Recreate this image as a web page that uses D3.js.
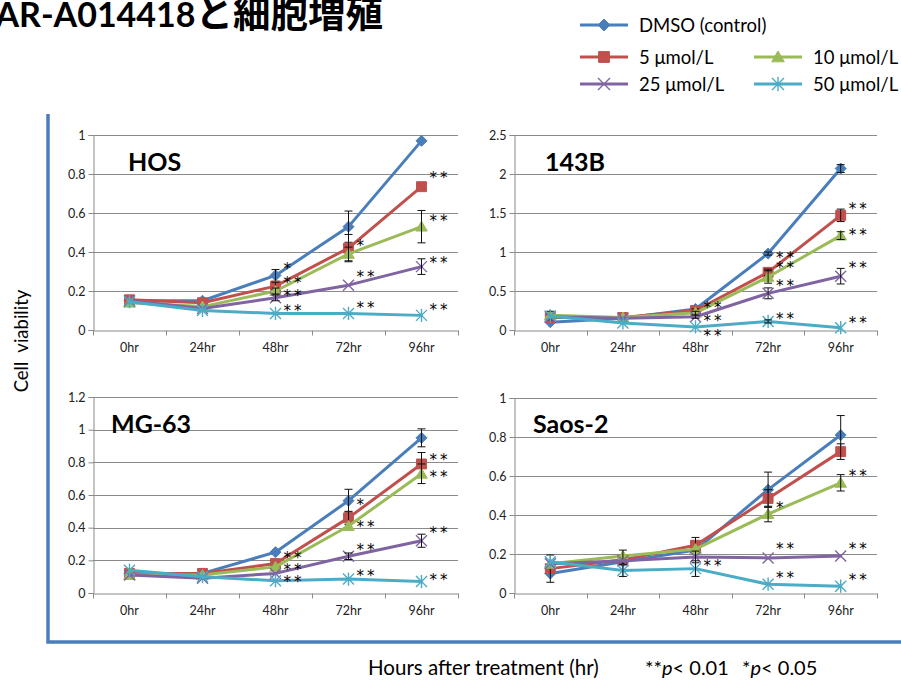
<!DOCTYPE html>
<html>
<head>
<meta charset="utf-8">
<script src="https://cdn.jsdelivr.net/npm/d3@7"></script>
<style>
  html, body { margin: 0; padding: 0; background: #fff; }
  svg { display: block; }
</style>
</head>
<body>
<svg id="chart" width="901" height="682"></svg>
<script>
// ---- data ----
const hours = ["0hr", "24hr", "48hr", "72hr", "96hr"];
const seriesNames = ["DMSO (control)", "5 μmol/L", "10 μmol/L", "25 μmol/L", "50 μmol/L"];

// HOS
const hosValues = [
  [0.15, 0.15, 0.28, 0.53, 0.97],
  [0.155, 0.14, 0.225, 0.42, 0.735],
  [0.14, 0.12, 0.20, 0.39, 0.53],
  [0.15, 0.11, 0.165, 0.23, 0.325],
  [0.145, 0.10, 0.085, 0.085, 0.075]
];
const hosErrors = [
  [0.01, 0.01, 0.03, 0.08, 0.01],
  [0.01, 0.01, 0.02, 0.07, 0.01],
  [0.01, 0.01, 0.015, 0.035, 0.083],
  [0.01, 0.01, 0.015, 0.01, 0.04],
  [0.01, 0.01, 0.01, 0.01, 0.01]
];
const hosStars = [
  [2, 0.333, "*"], [2, 0.26, "**"], [2, 0.197, "**"], [2, 0.12, "**"],
  [3, 0.453, "*"], [3, 0.29, "**"], [3, 0.133, "**"],
  [4, 0.798, "**"], [4, 0.58, "**"], [4, 0.362, "**"], [4, 0.125, "**"]
];

// 143B
const b143Values = [
  [0.10, 0.15, 0.27, 0.98, 2.07],
  [0.16, 0.16, 0.25, 0.74, 1.47],
  [0.19, 0.16, 0.22, 0.68, 1.21],
  [0.17, 0.15, 0.17, 0.47, 0.69],
  [0.18, 0.09, 0.04, 0.11, 0.03]
];
const b143Errors = [
  [0.01, 0.01, 0.02, 0.02, 0.05],
  [0.03, 0.01, 0.02, 0.04, 0.08],
  [0.05, 0.01, 0.02, 0.08, 0.05],
  [0.01, 0.01, 0.02, 0.07, 0.10],
  [0.01, 0.01, 0.01, 0.02, 0.01]
];
const b143Stars = [
  [2, 0.33, "**"], [2, 0.17, "**"], [2, -0.02, "**"],
  [3, 0.98, "**"], [3, 0.84, "**"], [3, 0.62, "**"], [3, 0.19, "**"],
  [4, 1.60, "**"], [4, 1.27, "**"], [4, 0.85, "**"], [4, 0.137, "**"]
];

// MG-63
const mg63Values = [
  [0.12, 0.12, 0.25, 0.565, 0.95],
  [0.12, 0.12, 0.18, 0.46, 0.79],
  [0.11, 0.11, 0.16, 0.41, 0.73],
  [0.11, 0.09, 0.12, 0.225, 0.32],
  [0.14, 0.10, 0.075, 0.085, 0.07]
];
const mg63Errors = [
  [0.01, 0.01, 0.01, 0.07, 0.055],
  [0.01, 0.01, 0.01, 0.04, 0.07],
  [0.01, 0.01, 0.01, 0.01, 0.06],
  [0.01, 0.01, 0.01, 0.02, 0.04],
  [0.01, 0.01, 0.01, 0.01, 0.01]
];
const mg63Stars = [
  [2, 0.238, "**"], [2, 0.166, "**"], [2, 0.094, "**"],
  [3, 0.566, "*"], [3, 0.426, "**"], [3, 0.289, "**"], [3, 0.129, "**"],
  [4, 0.836, "**"], [4, 0.734, "**"], [4, 0.391, "**"], [4, 0.102, "**"]
];

// Saos-2
const saosValues = [
  [0.10, 0.16, 0.22, 0.53, 0.81],
  [0.125, 0.17, 0.245, 0.485, 0.725],
  [0.15, 0.19, 0.225, 0.405, 0.565],
  [0.15, 0.165, 0.185, 0.18, 0.19],
  [0.16, 0.115, 0.125, 0.045, 0.035]
];
const saosErrors = [
  [0.01, 0.01, 0.01, 0.09, 0.10],
  [0.07, 0.02, 0.04, 0.045, 0.04],
  [0.01, 0.03, 0.01, 0.04, 0.042],
  [0.01, 0.01, 0.03, 0.01, 0.01],
  [0.01, 0.03, 0.04, 0.01, 0.01]
];
const saosStars = [
  [2, 0.157, "**"],
  [3, 0.458, "*"], [3, 0.244, "**"], [3, 0.099, "**"],
  [4, 0.62, "**"], [4, 0.244, "**"], [4, 0.085, "**"]
];

const hosTicks = [0, 0.2, 0.4, 0.6, 0.8, 1];
const b143Ticks = [0, 0.5, 1, 1.5, 2, 2.5];
const mg63Ticks = [0, 0.2, 0.4, 0.6, 0.8, 1, 1.2];
const saosTicks = [0, 0.2, 0.4, 0.6, 0.8, 1];

// ---- styling ----
const colors = ["#4a7ebb", "#c0504d", "#9bbb59", "#8064a2", "#4bacc6"];
const markerKinds = ["diamond", "square", "triangle", "x", "star"];
const gridColor = "#8a8a8a";
const latin = "Lato, 'Noto Sans', sans-serif";

const svg = d3.select("#chart");

// marker path generator
function markerPath(kind, r) {
  const p = d3.path();
  if (kind === "diamond") {
    p.moveTo(0, -r); p.lineTo(r, 0); p.lineTo(0, r); p.lineTo(-r, 0); p.closePath();
  } else if (kind === "square") {
    p.rect(-r * 0.9, -r * 0.9, r * 1.8, r * 1.8);
  } else if (kind === "triangle") {
    p.moveTo(0, -r); p.lineTo(r * 1.05, r * 0.8); p.lineTo(-r * 1.05, r * 0.8); p.closePath();
  } else if (kind === "x") {
    p.moveTo(-r, -r); p.lineTo(r, r); p.moveTo(r, -r); p.lineTo(-r, r);
  } else {
    p.moveTo(-r, -r); p.lineTo(r, r); p.moveTo(r, -r); p.lineTo(-r, r);
    p.moveTo(0, -r * 1.2); p.lineTo(0, r * 1.2);
  }
  return p.toString();
}
function drawMarker(g, kind, color, r) {
  const open = kind === "x" || kind === "star";
  g.append("path")
    .attr("d", markerPath(kind, r))
    .attr("fill", open ? "none" : color)
    .attr("stroke", color)
    .attr("stroke-width", open ? 1.4 : 1);
}

// ---- title ----
const title = svg.append("text")
  .attr("x", 383).attr("y", 27)
  .attr("text-anchor", "end")
  .attr("font-weight", "bold")
  .attr("fill", "#000");
title.append("tspan").attr("font-family", latin).attr("font-size", 34).text("AR-A014418");
title.append("tspan").attr("font-family", "'Noto Sans CJK JP', sans-serif").attr("font-size", 37.5).text("と細胞増殖");

// ---- legend ----
const legendItems = [
  { i: 0, x: 580, y: 25 },
  { i: 1, x: 580, y: 57 },
  { i: 2, x: 754, y: 57 },
  { i: 3, x: 580, y: 84 },
  { i: 4, x: 754, y: 84 }
];
legendItems.forEach(it => {
  const g = svg.append("g").attr("transform", `translate(${it.x},${it.y})`);
  g.append("line").attr("x1", 0).attr("x2", 48).attr("y1", 0).attr("y2", 0)
    .attr("stroke", colors[it.i]).attr("stroke-width", 3);
  const m = g.append("g").attr("transform", "translate(24,0)");
  drawMarker(m, markerKinds[it.i], colors[it.i], 6);
  g.append("text").attr("x", 59).attr("y", 6.5)
    .attr("font-family", latin).attr("font-size", 18.5).attr("fill", "#000")
    .text(seriesNames[it.i]);
});

// ---- frame ----
svg.append("path")
  .attr("d", d3.line()([[48, 114], [48, 642], [901, 642]]))
  .attr("fill", "none").attr("stroke", "#4a7ebb").attr("stroke-width", 3.5);

// ---- panels ----
const panels = [
  { name: "HOS", values: hosValues, errors: hosErrors, stars: hosStars, ticks: hosTicks,
    left: 93, right: 458, top: 135, bottom: 330, labelX: 128, labelY: 171 },
  { name: "143B", values: b143Values, errors: b143Errors, stars: b143Stars, ticks: b143Ticks,
    left: 514, right: 877, top: 135, bottom: 330, labelX: 545, labelY: 171 },
  { name: "MG-63", values: mg63Values, errors: mg63Errors, stars: mg63Stars, ticks: mg63Ticks,
    left: 93, right: 458, top: 397, bottom: 593, labelX: 111, labelY: 433 },
  { name: "Saos-2", values: saosValues, errors: saosErrors, stars: saosStars, ticks: saosTicks,
    left: 514, right: 877, top: 398, bottom: 593, labelX: 533, labelY: 433 }
];

panels.forEach(p => {
  const g = svg.append("g");
  const x = d3.scaleBand().domain(hours).range([p.left, p.right]);
  const y = d3.scaleLinear().domain([0, d3.max(p.ticks)]).range([p.bottom, p.top]);
  const cx = h => x(h) + x.bandwidth() / 2;

  // gridlines
  g.append("g").selectAll("line").data(p.ticks.slice(1)).join("line")
    .attr("x1", p.left).attr("x2", p.right)
    .attr("y1", d => Math.round(y(d)) + 0.5).attr("y2", d => Math.round(y(d)) + 0.5)
    .attr("stroke", gridColor).attr("stroke-width", 1);

  // y axis
  const ya = g.append("g").attr("transform", `translate(${p.left + 0.5},0)`)
    .call(d3.axisLeft(y).tickValues(p.ticks).tickSize(5).tickPadding(3).tickFormat(d3.format("~g")));
  ya.select(".domain").attr("stroke", gridColor);
  ya.selectAll(".tick line").attr("stroke", gridColor);
  ya.selectAll(".tick text").attr("font-family", latin).attr("font-size", 12.5).attr("fill", "#222");

  // x axis: labels at band centres, tick marks at band boundaries
  const xa = g.append("g").attr("transform", `translate(0,${Math.round(p.bottom) + 0.5})`)
    .call(d3.axisBottom(x).tickSize(0).tickPadding(13));
  xa.select(".domain").attr("stroke", gridColor);
  xa.selectAll(".tick text").attr("font-family", latin).attr("font-size", 12.5).attr("fill", "#222");
  const bounds = hours.map(h => x(h)).concat([p.right]);
  xa.selectAll(".bound").data(bounds).join("line").attr("class", "bound")
    .attr("x1", d => Math.round(d) + 0.5).attr("x2", d => Math.round(d) + 0.5)
    .attr("y1", 0).attr("y2", 5).attr("stroke", gridColor);

  // panel name
  g.append("text").attr("x", p.labelX).attr("y", p.labelY)
    .attr("font-family", latin).attr("font-weight", "bold").attr("font-size", 25)
    .attr("fill", "#000").text(p.name);

  // series
  const line = d3.line().x((d, i) => cx(hours[i])).y(d => y(d));
  p.values.forEach((vals, s) => {
    const sg = g.append("g");
    sg.append("path").attr("d", line(vals))
      .attr("fill", "none").attr("stroke", colors[s]).attr("stroke-width", 3)
      .attr("stroke-linejoin", "round").attr("stroke-linecap", "round");
    vals.forEach((v, i) => {
      const m = sg.append("g").attr("transform", `translate(${cx(hours[i])},${y(v)})`);
      drawMarker(m, markerKinds[s], colors[s], 5.5);
    });
    // error bars
    vals.forEach((v, i) => {
      const e = p.errors[s][i];
      if (e < 0.012) return;
      const xc = cx(hours[i]);
      const y1 = y(v + e), y2 = y(v - e);
      sg.append("path")
        .attr("d", `M${xc},${y1}V${y2}M${xc - 4},${y1}H${xc + 4}M${xc - 4},${y2}H${xc + 4}`)
        .attr("stroke", "#111").attr("stroke-width", 1).attr("fill", "none");
    });
  });

  // significance asterisks
  g.append("g").selectAll("text").data(p.stars).join("text")
    .attr("x", d => cx(hours[d[0]]) + 8)
    .attr("y", d => y(d[1]) + 9)
    .attr("font-family", "'DejaVu Sans', sans-serif").attr("font-size", 15).attr("letter-spacing", 3)
    .attr("fill", "#000").text(d => d[2]);
});

// ---- axis titles and note ----
svg.append("text")
  .attr("transform", "translate(28,341) rotate(-90)")
  .attr("text-anchor", "middle")
  .attr("font-family", latin).attr("font-size", 18.5).attr("fill", "#000")
  .attr("xml:space", "preserve")
  .text("Cell  viability");

svg.append("text").attr("x", 368).attr("y", 675)
  .attr("font-family", latin).attr("font-size", 20.5).attr("fill", "#000")
  .text("Hours after treatment (hr)");

const note = svg.append("text").attr("y", 675)
  .attr("font-family", latin).attr("font-size", 20).attr("fill", "#000");
note.append("tspan").attr("x", 645).text("**");
note.append("tspan").attr("font-style", "italic").text("p");
note.append("tspan").text("< 0.01");
note.append("tspan").attr("x", 742).text("*");
note.append("tspan").attr("font-style", "italic").text("p");
note.append("tspan").text("< 0.05");
</script>
</body>
</html>
